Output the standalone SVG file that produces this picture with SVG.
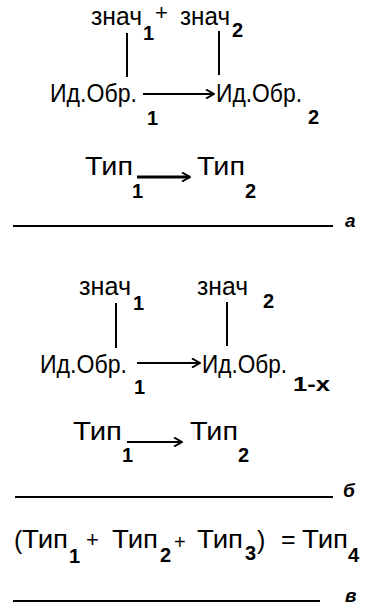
<svg xmlns="http://www.w3.org/2000/svg" width="369" height="608" viewBox="0 0 369 608">
<style>
text{font-family:"Liberation Sans",Arial,sans-serif;fill:#000}
.m{font-size:25px}
.s{font-size:20px;font-weight:bold}
.p{font-size:22px}
.c{font-size:19px;font-style:italic;font-weight:bold}
.ln{stroke:#000;stroke-width:2;fill:none}
.ar{stroke:#000;stroke-width:2;fill:none;marker-end:url(#h)}
.ar2{stroke:#000;stroke-width:2.8;fill:none;marker-end:url(#h)}
</style>
<defs>
<marker id="h" viewBox="0 0 10 10" refX="9" refY="5" markerWidth="10" markerHeight="10" orient="auto" markerUnits="userSpaceOnUse">
<polyline points="1,0.5 9,5 1,9.5" fill="none" stroke="#000" stroke-width="2"/>
</marker>
</defs>
<rect width="369" height="608" fill="#fff"/>
<g id="conn">
<line class="ln" x1="127" y1="33" x2="127" y2="77"/>
<line class="ln" x1="219" y1="31" x2="219" y2="75"/>
<line class="ar" x1="143" y1="94" x2="214" y2="94"/>
<line class="ar2" x1="137" y1="177" x2="190" y2="177"/>
<line class="ln" x1="116" y1="303" x2="116" y2="348"/>
<line class="ln" x1="227" y1="302" x2="227" y2="346"/>
<line class="ar" x1="137" y1="363" x2="200" y2="363"/>
<line class="ar" x1="127" y1="442" x2="182" y2="442"/>
</g>
<g id="a-znach1"><text class="m" x="91" y="25" textLength="51" lengthAdjust="spacingAndGlyphs">знач</text><text class="s" x="143" y="40">1</text></g>
<g id="a-plus"><text class="p" x="155" y="20">+</text></g>
<g id="a-znach2"><text class="m" x="180" y="25" textLength="50" lengthAdjust="spacingAndGlyphs">знач</text><text class="s" x="232" y="37">2</text></g>
<g id="a-id1"><text class="m" x="50" y="102" textLength="87" lengthAdjust="spacingAndGlyphs">Ид.Обр.</text><text class="s" x="147" y="125">1</text></g>
<g id="a-id2"><text class="m" x="216" y="102" textLength="86" lengthAdjust="spacingAndGlyphs">Ид.Обр.</text><text class="s" x="308" y="124">2</text></g>
<g id="a-tip1"><text class="m" x="85" y="175" textLength="48" lengthAdjust="spacingAndGlyphs">Тип</text><text class="s" x="132" y="198">1</text></g>
<g id="a-tip2"><text class="m" x="197" y="175" textLength="48" lengthAdjust="spacingAndGlyphs">Тип</text><text class="s" x="245" y="198">2</text></g>
<g id="a-rule"><line class="ln" x1="13" y1="226" x2="333" y2="226"/><text class="c" x="345" y="227">а</text></g>
<g id="b-znach1"><text class="m" x="79" y="295" textLength="52" lengthAdjust="spacingAndGlyphs">знач</text><text class="s" x="133" y="310">1</text></g>
<g id="b-znach2"><text class="m" x="197" y="295" textLength="51" lengthAdjust="spacingAndGlyphs">знач</text><text class="s" x="263" y="308">2</text></g>
<g id="b-id1"><text class="m" x="40" y="373" textLength="87" lengthAdjust="spacingAndGlyphs">Ид.Обр.</text><text class="s" x="134" y="394">1</text></g>
<g id="b-id2"><text class="m" x="202" y="373" textLength="85" lengthAdjust="spacingAndGlyphs">Ид.Обр.</text><text class="s" x="293" y="391" textLength="37" lengthAdjust="spacingAndGlyphs">1-x</text></g>
<g id="b-tip1"><text class="m" x="73" y="440" textLength="49" lengthAdjust="spacingAndGlyphs">Тип</text><text class="s" x="122" y="462">1</text></g>
<g id="b-tip2"><text class="m" x="190" y="440" textLength="48" lengthAdjust="spacingAndGlyphs">Тип</text><text class="s" x="238" y="462">2</text></g>
<g id="b-rule"><line class="ln" x1="15" y1="497" x2="333" y2="497"/><text class="c" x="343" y="497">б</text></g>
<g id="c-formula">
<text class="m" x="14" y="549">(</text>
<text class="m" x="22" y="548" textLength="46" lengthAdjust="spacingAndGlyphs">Тип</text><text class="s" x="69" y="563">1</text>
<text class="p" x="86" y="547">+</text>
<text class="m" x="112" y="548" textLength="46" lengthAdjust="spacingAndGlyphs">Тип</text><text class="s" x="160" y="562">2</text>
<text class="s" x="174" y="549" style="font-weight:normal">+</text>
<text class="m" x="197" y="548" textLength="46" lengthAdjust="spacingAndGlyphs">Тип</text><text class="s" x="245" y="560">3</text>
<text class="m" x="257" y="549">)</text>
<text class="m" x="281" y="548">=</text>
<text class="m" x="302" y="548" textLength="46" lengthAdjust="spacingAndGlyphs">Тип</text><text class="s" x="348" y="562">4</text>
</g>
<g id="c-rule"><line class="ln" x1="13" y1="601" x2="320" y2="601"/><text class="c" x="345" y="602">в</text></g>
</svg>
